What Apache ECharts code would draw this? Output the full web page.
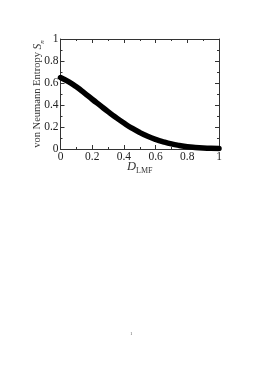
<!DOCTYPE html>
<html><head><meta charset="utf-8">
<script src="https://cdn.jsdelivr.net/npm/echarts@6/dist/echarts.min.js"></script>
<style>html,body{margin:0;padding:0;background:#fff}#c{width:262px;height:370px}</style>
</head><body><div id="c"></div>
<script>
const xValues = [0, 0.05, 0.1, 0.15, 0.2, 0.25, 0.3, 0.35, 0.4, 0.45, 0.5, 0.55, 0.6, 0.65, 0.7, 0.75, 0.8, 0.85, 0.9, 0.95, 1.0];
const entropy = [0.65, 0.612, 0.565, 0.51, 0.452, 0.396, 0.34, 0.286, 0.236, 0.19, 0.15, 0.116, 0.088, 0.065, 0.046, 0.032, 0.021, 0.014, 0.009, 0.006, 0.005];
const xTicks = [0, 0.2, 0.4, 0.6, 0.8, 1];
const yTicks = [0, 0.2, 0.4, 0.6, 0.8, 1];
const pageNumber = '1';

const font = '"Liberation Serif", "DejaVu Serif", serif';
const chart = echarts.init(document.getElementById('c'));
const axisCommon = {
  min: 0, max: 1, interval: 0.2,
  axisLine: {show: true, onZero: false, lineStyle: {color: '#333', width: 1}},
  axisTick: {show: true, inside: true, length: 4, lineStyle: {color: '#333', width: 1}},
  minorTick: {show: true, splitNumber: 2, length: 2, lineStyle: {color: '#333', width: 1}},
  splitLine: {show: false},
  axisLabel: {show: true, color: '#222', fontFamily: font, fontSize: 11.5, margin: 2,
    formatter: v => String(Math.round(v * 10) / 10)}
};
chart.setOption({
  animation: false,
  grid: {left: 60.5, top: 39, right: 43, bottom: 221, containLabel: false},
  xAxis: [
    Object.assign({}, axisCommon, {type: 'value', position: 'bottom',
      name: '{i|D}{s|LMF}', nameLocation: 'middle', nameGap: 10, nameMoveOverlap: false,
      nameTextStyle: {rich: {
        i: {fontFamily: font, fontStyle: 'italic', fontSize: 12.5, color: '#333', lineHeight: 14, verticalAlign: 'bottom'},
        s: {fontFamily: font, fontSize: 8, color: '#333', lineHeight: 14, verticalAlign: 'bottom', padding: [0,0,-2,0]}
      }}}),
    Object.assign({}, axisCommon, {type: 'value', position: 'top', axisLabel: {show: false}})
  ],
  yAxis: [
    Object.assign({}, axisCommon, {type: 'value', position: 'left',
      name: 'von Neumann Entropy {i|S}{s|n}', nameLocation: 'middle', nameGap: 16.5, nameRotate: 90, nameMoveOverlap: false,
      nameTextStyle: {fontFamily: font, fontSize: 10.5, color: '#333', rich: {
        i: {fontFamily: font, fontStyle: 'italic', fontSize: 11.5, color: '#333', lineHeight: 14, verticalAlign: 'bottom'},
        s: {fontFamily: font, fontStyle: 'italic', fontSize: 7, color: '#333', lineHeight: 14, verticalAlign: 'bottom', padding: [0,0,-2,0]}
      }}}),
    Object.assign({}, axisCommon, {type: 'value', position: 'right', axisLabel: {show: false}})
  ],
  series: [{
    type: 'line', xAxisIndex: 0, yAxisIndex: 0,
    data: xValues.map((x, i) => [x, entropy[i]]),
    smooth: 0.5, showSymbol: false,
    lineStyle: {color: '#000', width: 5.5, cap: 'round'}
  }],
  graphic: [{type: 'text', left: 130, top: 331,
    style: {text: pageNumber, fontFamily: font, fontSize: 5, fill: '#666'}}]
});
</script></body></html>
